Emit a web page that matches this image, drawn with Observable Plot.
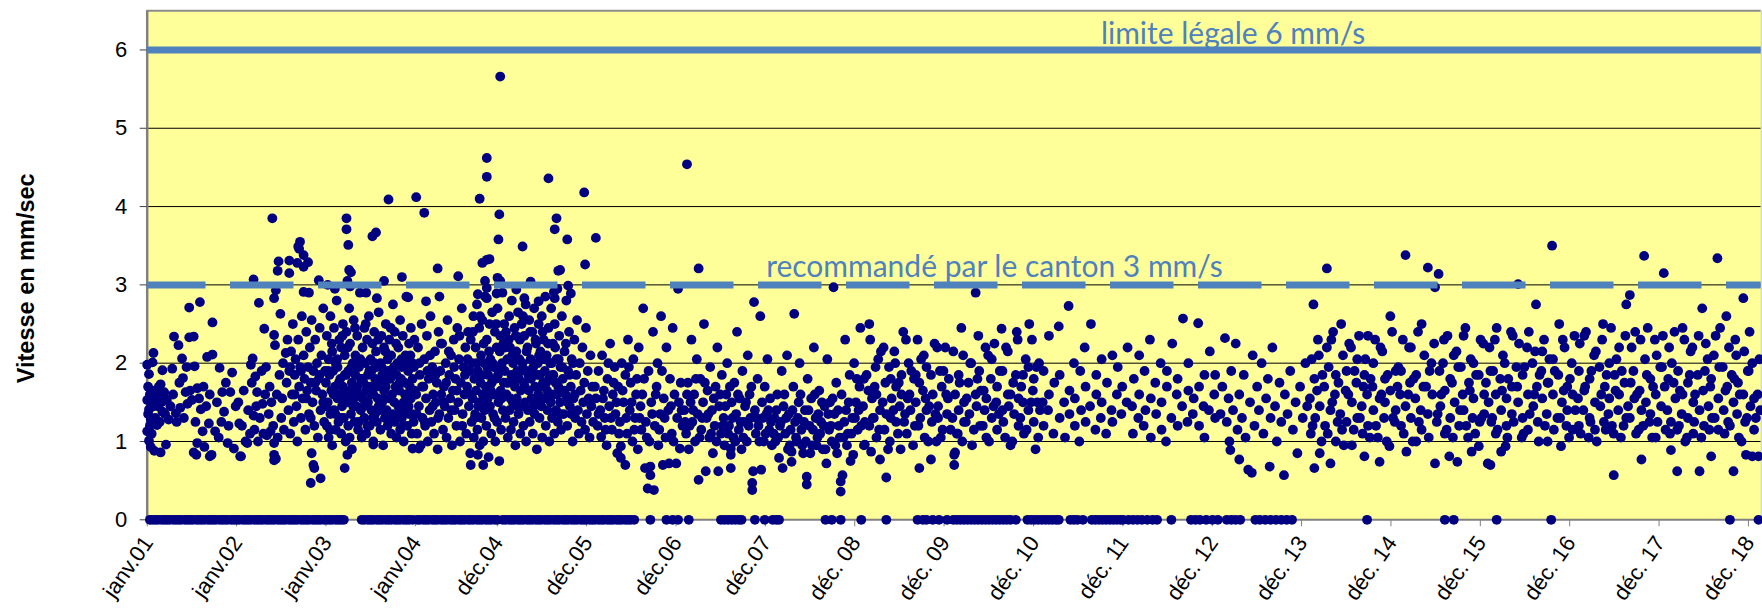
<!DOCTYPE html>
<html><head><meta charset="utf-8">
<script src="https://cdn.jsdelivr.net/npm/d3@7"></script>
<script src="https://cdn.jsdelivr.net/npm/@observablehq/plot@0.6"></script>
<style>html,body{margin:0;padding:0;background:#fff;} svg{display:block}</style>
</head><body><div id="chart"></div>
<script>
// ---- tick labels / positions (decimal years) ----
const tickLabels = ["janv.01","janv.02","janv.03","janv.04","déc.04","déc.05","déc.06","déc.07","déc. 08","déc. 09","déc. 10","déc. 11","déc. 12","déc. 13","déc. 14","déc. 15","déc. 16","déc. 17","déc. 18"];
const tickYears = [2001,2002,2003,2004,2004.917,2005.917,2006.917,2007.917,2008.917,2009.917,2010.917,2011.917,2012.917,2013.917,2014.917,2015.917,2016.917,2017.917,2018.917];
const yTicks = [0,1,2,3,4,5,6];
const legalLimit = 6;
const cantonLimit = 3;

// ---- measurements: [fraction of year, mm/s] ----
const y2001 = [[.00,1.98],[.06,2.01],[.07,2.13],[.02,1.86],[.00,1.53],[.02,1.41],[.04,1.28],[.00,1.13],[.02,1.01],[.04,.93],[.08,.88],[.15,.86],[.21,.96],[.11,1.63],[.15,1.73],[.19,1.63],[.22,1.53],[.17,1.38],[.11,1.21],[.17,1.91],[.28,1.93],[.30,2.34],[.35,2.23],[.39,2.06],[.40,1.81],[.43,1.63],[.37,1.43],[.32,1.36],[.45,1.48],[.47,2.33],[.52,2.34],[.47,2.71],[.59,2.78],[.53,1.96],[.56,1.68],[.50,1.53],[.60,1.41],[.52,.86],[.56,.98],[.62,1.13],[.64,.93],[.69,1.23],[.72,.83],[.73,2.52],[.67,2.08],[.73,2.11],[.76,1.13],[.81,1.94],[.84,1.63],[.86,1.38],[.90,.98],[.95,1.88],[.97,.91],[.93,1.63],
[.01,1.7],[.03,1.6],[.05,1.5],[.01,1.35],[.03,1.2],[.05,1.1],[.07,1.45],[.08,1.65],[.09,1.3],[.10,1.55],[.12,1.45],[.13,1.7],[.14,1.25],[.16,1.5],[.18,1.6],[.20,1.35],[.24,1.28],[.26,1.45],[.29,1.6],[.33,1.25],[.36,1.75],[.41,1.3],[.44,1.95],[.48,1.65],[.54,1.25],[.58,1.55],[.63,1.7],[.66,1.45],[.70,1.6],[.78,1.5],[.80,1.05],[.83,1.25],[.88,1.75],[.91,1.2],[.99,1.45],[.55,.83],[.70,.81]];
const y2002 = [[.04,.81],[.03,1.23],[.12,.98],[.16,1.98],[.18,2.06],[.19,3.07],[.25,2.77],[.21,1.83],[.23,1.63],[.19,1.33],[.29,1.48],[.31,2.44],[.34,1.08],[.38,1.13],[.40,3.85],[.42,2.83],[.44,2.93],[.46,3.18],[.49,2.63],[.42,2.36],[.43,2.23],[.44,.78],[.42,.98],[.47,3.30],[.55,2.13],
[.59,3.31],[.59,3.15],[.69,3.49],[.71,3.55],[.70,3.46],[.68,3.28],[.75,3.38],[.75,3.23],[.80,3.29],[.92,3.06],[.75,2.91],[.81,2.9],
[.42,.76],[.42,.83],[.05,.81],[.83,.47],[.94,.53],[.86,.70],[.87,.66],[.84,.85],
[.02,1.5],[.06,1.2],[.08,1.65],[.10,1.0],[.13,1.4],[.15,1.1],[.17,1.75],[.20,1.15],[.22,1.45],[.24,1.0],[.26,1.3],[.28,1.9],[.30,1.1],[.32,1.6],[.33,1.95],[.36,1.35],[.37,1.7],[.39,1.5],[.41,1.2],[.45,1.6],[.46,1.05],[.48,1.85],[.50,1.3],[.51,1.55],[.52,2.0],[.53,1.15],
[.56,1.75],[.57,2.3],[.58,1.4],[.59,1.9],[.60,1.1],[.61,2.15],[.62,1.6],[.63,2.5],[.64,1.25],[.65,1.85],[.66,2.05],[.67,1.45],[.68,1.0],[.69,2.3],[.70,1.7],[.71,1.95],[.72,1.3],[.73,2.6],[.74,1.55],[.75,2.1],[.76,1.8],[.77,1.15],[.78,2.4],[.79,1.65],[.80,1.95],[.81,1.35],[.82,2.2],[.83,1.75],[.84,2.55],[.85,1.5],[.86,1.9],[.87,1.2],[.88,2.3],[.89,1.65],[.90,2.0],[.91,1.05],[.92,1.8],[.93,2.45],[.94,1.4],[.95,2.1],[.96,1.6],[.97,2.7],[.98,1.25],[.99,1.9],[.60,1.95],[.65,1.6],[.72,1.9],[.78,1.55],[.83,1.3],[.88,1.75],[.93,1.85],[.97,1.5]];
const y2003 = [[.00,1.75],[.01,1.20],[.01,2.35],[.02,1.50],[.03,2.05],[.03,1.05],[.04,1.85],[.05,2.60],[.05,1.35],[.06,1.65],
[.07,2.15],[.07,.95],[.08,1.90],[.09,2.45],[.09,1.40],[.10,1.70],[.11,2.00],[.11,1.15],[.12,2.80],[.13,1.55],
[.13,1.95],[.14,1.25],[.15,2.30],[.15,1.60],[.16,1.80],[.17,2.20],[.17,1.10],[.18,1.45],[.19,2.50],[.19,1.70],
[.20,1.30],[.21,2.10],[.21,1.85],[.22,1.00],[.23,1.60],[.23,2.40],[.24,1.50],[.25,1.90],[.25,1.20],[.26,2.70],
[.27,1.65],[.27,2.25],[.28,1.35],[.29,1.75],[.29,.90],[.30,2.00],[.31,1.55],[.31,2.55],[.32,1.25],[.33,1.85],
[.33,2.10],[.34,1.45],[.35,1.70],[.35,2.35],[.36,1.15],[.37,1.95],[.37,1.60],[.38,2.90],[.39,1.40],[.39,1.80],
[.40,1.05],[.41,2.20],[.41,1.55],[.42,1.75],[.43,2.45],[.43,1.30],[.44,2.00],[.45,1.65],[.45,1.10],[.46,2.30],
[.47,1.85],[.47,1.50],[.48,2.60],[.49,1.20],[.49,1.70],[.50,2.05],[.51,1.40],[.51,1.90],[.52,2.25],[.53,1.00],
[.53,1.60],[.54,2.40],[.55,1.35],[.55,1.80],[.56,2.15],[.57,1.25],[.57,1.95],[.58,1.55],[.59,2.65],[.59,1.45],
[.60,1.75],[.61,1.15],[.61,2.00],[.62,2.35],[.63,1.50],[.63,1.85],[.64,.95],[.65,2.20],[.65,1.65],[.66,1.30],
[.67,2.50],[.67,1.70],[.68,1.40],[.69,2.05],[.69,1.20],[.70,1.90],[.71,2.30],[.71,1.55],[.72,1.80],[.73,1.10],
[.73,2.10],[.74,1.60],[.75,2.75],[.75,1.35],[.76,1.95],[.77,1.25],[.77,2.40],[.78,1.70],[.79,1.05],[.79,1.85],
[.80,2.00],[.81,1.45],[.81,2.20],[.82,1.65],[.83,1.15],[.83,2.55],[.84,1.80],[.85,1.30],[.85,1.95],[.86,2.35],
[.87,1.50],[.87,1.00],[.88,1.75],[.89,2.10],[.89,1.40],[.90,2.85],[.91,1.60],[.91,1.20],[.92,1.90],[.93,2.25],
[.93,1.35],[.94,1.70],[.95,2.45],[.95,1.55],[.96,1.10],[.97,2.00],[.97,1.80],[.98,1.25],[.99,2.30],[.99,1.65],
[.23,3.85],[.23,3.71],[.25,3.51],[.26,3.19],[.28,3.16],[.24,3.05],[.27,2.98],[.52,3.62],[.56,3.67],[.70,4.09],[.57,2.83],[.92,2.84],[.21,.66],[.24,.83],[.53,.96],[.97,.91],[.02,3.0],[.10,2.95],[.45,2.9],[.65,3.05],[.85,3.1]];
const y2003b = [[.005,1.45],[.025,1.9],[.045,1.15],[.065,2.25],[.085,1.6],[.105,1.35],[.125,2.05],[.145,1.75],[.165,1.3],[.185,2.35],[.205,1.55],[.225,1.85],[.245,2.2],[.265,1.05],[.285,1.95],[.305,1.45],[.325,2.45],[.345,1.65],[.365,1.25],[.385,2.05],[.405,1.8],[.425,1.45],[.445,2.5],[.465,1.2],[.485,1.9],[.505,1.6],[.525,1.3],[.545,2.0],[.565,1.7],[.585,2.3],[.605,1.4],[.625,1.95],[.645,1.55],[.665,2.15],[.685,1.8],[.705,1.25],[.725,2.45],[.745,1.85],[.765,1.5],[.785,2.25],[.805,1.35],[.825,1.75],[.845,2.05],[.865,1.2],[.885,1.6],[.905,2.0],[.925,1.45],[.945,2.1],[.965,1.35],[.985,1.95]];
const y2004 = [[.01,1.6],[.02,1.1],[.03,2.2],[.04,1.45],[.05,1.85],[.06,.95],[.07,2.5],[.08,1.3],[.09,1.7],[.10,2.05],[.11,1.2],[.12,1.55],[.13,2.35],[.14,1.0],[.15,1.8],[.16,1.4],[.17,2.6],[.18,1.25],[.19,1.95],[.20,1.6],[.21,1.1],[.22,2.15],[.23,1.5],[.24,1.75],[.25,.9],[.26,2.4],[.27,1.35],[.28,1.9],[.29,1.6],[.30,2.25],[.31,1.15],[.32,1.7],[.33,1.45],[.34,2.0],[.35,1.05],[.36,2.55],[.37,1.3],[.38,1.85],[.39,1.55],[.40,2.1],[.41,.95],[.42,1.65],[.43,2.3],[.44,1.4],[.45,1.8],[.46,1.2],[.47,2.45],[.48,1.5],[.49,2.05],[.50,1.0],[.51,1.75],[.52,2.7],[.53,1.35],[.54,1.95],[.55,1.6],[.56,2.2],[.57,1.1],[.58,1.7],[.59,2.4],[.60,1.45],
[.61,1.9],[.615,.85],[.62,2.3],[.63,1.25],[.635,2.0],[.64,1.55],[.65,2.6],[.655,1.05],[.66,1.8],[.67,1.35],[.675,2.2],[.68,1.65],[.69,2.75],[.695,1.15],[.70,1.9],[.71,1.5],[.715,2.45],[.72,.95],[.73,1.75],[.735,2.1],[.74,1.3],[.75,2.55],[.755,1.6],[.76,1.0],[.77,2.0],[.775,1.4],[.78,2.85],[.79,1.7],[.795,1.2],[.80,2.3],[.81,1.55],[.815,1.85],[.82,.8],[.83,2.5],[.835,1.45],[.84,2.05],[.85,1.1],[.855,1.75],[.86,2.65],[.87,1.35],[.875,1.95],[.88,1.6],[.89,2.4],[.895,1.0],[.90,1.8],[.91,2.2],[.915,1.25],[.92,2.7],[.93,1.5],[.935,1.9],[.94,.75],[.95,2.35],[.955,1.65],[.96,1.15],[.97,2.0],[.975,2.9],[.98,1.4],[.99,1.75],[.995,2.5],
[.01,4.12],[.10,3.92],[.25,3.21],[.48,3.11],[.72,4.10],[.78,3.05],[.80,2.96],[.75,3.28],[.80,3.32],[.83,3.33],[.80,4.62],[.80,4.38],[.70,2.88],[.80,2.83],[.95,5.66],[.94,3.90],[.93,3.58],[.92,3.09],[.95,3.05],[.91,2.89],[.27,2.85],[.12,2.79],[.04,.91],[.62,.70],[.76,.70],[.70,.83]];
const y2004b = [[.015,1.35],[.045,2.0],[.075,1.7],[.105,1.25],[.135,1.9],[.165,2.1],[.195,1.45],[.225,1.85],[.255,1.3],[.285,2.25],[.315,1.5],[.345,1.75],[.375,2.15],[.405,1.4],[.435,1.95],[.465,1.65],[.495,2.35],[.525,1.2],[.555,1.85],[.585,2.05],[.615,1.6],[.645,2.4],[.665,1.3],[.685,2.0],[.705,1.45],[.725,2.6],[.745,1.85],[.765,2.25],[.785,1.5],[.805,1.95],[.825,2.15],[.845,1.65],[.865,2.0],[.885,1.3],[.905,2.5],[.925,1.85],[.945,2.15],[.965,1.55],[.985,2.25]];
const y2005 = [[.00,1.9],[.01,1.3],[.015,2.4],[.02,1.6],[.03,2.05],[.035,1.05],[.04,1.75],[.05,2.6],[.055,1.4],[.06,2.2],[.07,1.15],[.075,1.85],[.08,2.8],[.09,1.5],[.095,2.0],[.10,1.25],[.11,2.45],[.115,1.7],[.12,.95],[.13,2.15],[.135,1.55],[.14,1.9],[.15,2.65],[.155,1.35],[.16,1.8],[.17,2.3],[.175,1.1],[.18,1.65],[.19,2.5],[.195,1.45],[.20,2.0],[.21,1.2],[.215,1.75],[.22,2.35],[.23,1.5],[.235,2.75],[.24,1.0],[.25,1.9],[.255,2.2],[.26,1.4],[.27,1.65],[.275,2.55],[.28,1.25],[.29,2.05],[.295,1.8],[.30,1.55],[.31,2.4],[.315,1.1],[.32,1.95],[.33,2.7],[.335,1.35],[.34,1.7],[.35,2.25],[.355,1.5],[.36,.9],[.37,2.0],[.375,1.6],[.38,2.5],[.39,1.3],[.395,1.85],[.40,2.15],[.41,1.45],[.415,2.6],[.42,1.05],[.43,1.75],[.435,2.3],[.44,1.55],[.45,1.9],[.455,2.85],[.46,1.2],[.47,2.1],[.475,1.65],[.48,1.4],[.49,2.45],[.495,1.8],[.50,1.0],[.51,2.0],[.515,1.5],[.52,2.7],[.53,1.3],[.535,1.85],[.54,2.25],[.55,1.6],[.555,1.1],[.56,2.5],[.57,1.75],[.575,1.4],[.58,2.05],[.59,2.95],[.595,1.25],[.60,1.7],[.61,2.35],[.62,1.5],[.625,1.95],[.63,1.15],[.64,2.6],[.65,1.8],[.66,1.35],[.67,2.15],[.68,1.6],[.69,2.8],[.70,1.2],[.71,1.9],[.72,2.4],[.73,1.45],[.74,1.7],[.75,2.05],[.76,1.0],[.77,1.55],[.78,2.3],[.79,1.3],[.80,1.85],[.81,2.55],[.82,1.4],[.83,1.1],[.84,2.0],[.85,1.65],[.86,1.25],[.87,2.2],[.88,1.5],[.89,1.75],[.90,1.15],[.91,2.45],[.92,1.35],[.93,1.9],[.94,1.55],[.95,1.05],[.96,2.1],[.97,1.45],[.98,1.7],[.99,1.25],
[.13,2.94],[.20,3.49],[.22,2.83],[.29,3.04],[.38,2.79],[.49,4.36],[.56,3.71],[.58,3.85],[.60,3.18],[.62,3.19],[.55,2.91],[.56,2.83],[.70,3.58],[.71,2.99],[.74,2.89],[.89,4.18],[.90,3.26]];
const y2005b = [[.005,2.2],[.025,1.75],[.045,2.3],[.065,1.55],[.085,2.1],[.105,1.8],[.125,2.35],[.145,1.45],[.165,2.05],[.185,1.9],[.205,2.6],[.225,1.7],[.245,2.15],[.265,1.85],[.285,2.4],[.305,1.9],[.325,1.45],[.345,2.3],[.365,1.85],[.385,2.1],[.405,1.7],[.425,2.4],[.445,2.05],[.465,1.75],[.485,2.25],[.505,1.55],[.525,2.0],[.545,1.85],[.565,2.2],[.585,1.6],[.605,2.05],[.625,1.35],[.645,1.95],[.665,1.65],[.685,2.25],[.705,1.5],[.725,1.85],[.745,1.35],[.765,2.0],[.785,1.6]];
const y2006 = [[.02,1.55],[.02,3.60],[.04,1.2],[.05,1.9],[.07,1.4],[.08,1.06],[.09,2.1],[.11,1.65],[.12,1.3],[.14,.95],[.15,1.8],[.17,1.45],[.18,2.25],[.20,1.15],[.21,1.6],[.23,1.95],[.24,1.35],[.26,.85],[.27,1.7],[.29,1.25],[.30,.94],[.30,.79],[.31,2.0],[.33,1.5],[.35,.70],[.35,1.85],[.37,1.1],[.38,2.3],[.40,1.4],[.41,1.75],[.43,1.0],[.44,2.05],[.46,1.3],[.47,1.6],[.49,.9],[.50,2.2],[.52,1.45],[.53,1.15],[.55,2.7],[.56,1.8],[.57,.66],[.58,1.25],[.60,.40],[.61,1.9],[.62,1.0],[.63,.57],[.63,.68],[.64,1.5],[.66,2.4],[.67,.38],[.68,1.2],[.70,1.7],[.71,2.0],[.72,.95],[.74,1.35],[.75,2.6],[.77,.70],[.78,1.55],[.80,1.05],[.81,2.2],[.83,1.4],[.84,.72],[.85,1.8],[.87,1.1],[.88,2.45],[.90,1.6],[.92,.72],[.93,1.3],[.94,2.95],[.96,.91],[.97,1.75],[.99,1.2]];
const y2006b = [[.01,1.7],[.05,1.35],[.10,1.55],[.13,1.15],[.16,2.0],[.19,1.3],[.22,1.75],[.25,1.5],[.28,1.1],[.32,1.65],[.36,1.3],[.39,1.95],[.42,1.5],[.45,1.15],[.48,1.8],[.51,1.3],[.54,1.6],[.59,1.05],[.65,1.35],[.69,1.6],[.73,1.15],[.76,1.9],[.79,1.3],[.86,1.45],[.89,1.0],[.95,1.5],[.98,1.4]];
const y2007 = [[.01,1.4],[.03,1.1],[.04,4.54],[.05,1.75],[.06,.9],[.08,1.5],[.09,2.3],[.10,1.25],[.12,1.6],[.13,1.0],[.15,2.05],[.16,1.35],[.17,3.21],[.17,.51],[.19,1.8],[.20,1.15],[.22,1.5],[.23,2.5],[.25,.62],[.26,1.3],[.27,1.65],[.29,1.05],[.30,1.95],[.32,1.4],[.33,.85],[.35,1.2],[.36,1.7],[.38,2.2],[.39,.62],[.40,1.45],[.42,1.1],[.43,1.85],[.45,1.3],[.46,.95],[.48,1.6],[.49,2.0],[.51,1.2],[.53,.83],[.53,.66],[.53,.91],[.54,1.5],[.56,1.05],[.57,1.75],[.59,1.35],[.60,2.4],[.62,1.15],[.63,1.55],[.65,.9],[.66,1.9],[.68,1.25],[.69,1.45],[.71,1.0],[.72,2.1],[.74,1.6],[.75,1.3],[.77,.47],[.77,.38],[.78,.62],[.79,2.78],[.80,1.4],[.81,1.1],[.83,1.8],[.84,1.2],[.86,2.6],[.87,.64],[.88,1.5],[.90,1.0],[.91,1.7],[.93,1.35],[.94,2.05],[.96,1.15],[.97,1.55],[.99,.95]];
const y2007b = [[.02,1.25],[.04,1.6],[.07,1.2],[.11,1.4],[.14,1.8],[.18,1.05],[.21,1.3],[.24,1.75],[.28,1.35],[.31,1.1],[.34,1.55],[.37,1.0],[.41,1.6],[.44,1.2],[.47,1.45],[.50,1.1],[.52,1.7],[.55,1.3],[.58,1.0],[.61,1.6],[.64,1.25],[.67,1.05],[.70,1.5],[.73,1.2],[.76,1.7],[.82,1.3],[.85,1.0],[.89,1.3],[.92,1.1],[.95,1.4],[.98,1.25]];
const y2008 = [[.02,1.3],[.03,1.0],[.05,1.6],[.07,.79],[.08,1.2],[.10,1.9],[.11,.66],[.12,1.45],[.14,1.1],[.16,2.1],[.18,1.35],[.19,.95],[.21,.74],[.21,.87],[.23,1.7],[.24,2.63],[.25,1.25],[.27,1.0],[.29,1.5],[.30,2.0],[.32,1.15],[.34,.85],[.36,1.4],[.38,.45],[.38,.55],[.39,1.8],[.41,1.2],[.43,1.55],[.44,.95],[.46,2.2],[.48,1.3],[.50,1.05],[.52,1.65],[.54,1.25],[.56,.9],[.58,1.45],[.60,.72],[.61,2.05],[.63,1.15],[.64,1.5],[.66,1.0],[.68,2.97],[.69,1.35],[.71,1.75],[.72,.85],[.74,1.2],[.76,.49],[.76,.36],[.77,1.6],[.78,.57],[.79,1.05],[.81,2.3],[.82,1.4],[.84,1.1],[.86,1.85],[.87,.75],[.89,1.3],[.90,.83],[.91,2.0],[.93,1.5],[.95,1.15],[.97,1.7],[.98,2.45]];
const y2008b = [[.01,1.1],[.04,1.4],[.06,1.05],[.09,1.25],[.13,1.6],[.15,1.3],[.17,.9],[.20,1.15],[.22,1.4],[.26,1.05],[.28,1.3],[.31,1.6],[.33,.95],[.35,1.25],[.37,1.0],[.40,1.4],[.42,.85],[.45,1.15],[.47,1.6],[.49,.95],[.51,1.35],[.53,1.1],[.55,1.5],[.57,1.2],[.59,.9],[.62,1.35],[.65,1.2],[.67,1.55],[.70,.95],[.73,1.4],[.75,1.05],[.80,1.25],[.83,.95],[.85,1.5],[.88,1.1],[.92,1.3],[.94,1.8],[.96,1.4],[.99,1.2]];
const y2009 = [[.01,1.45],[.02,1.8],[.03,.96],[.03,1.25],[.07,1.65],[.08,2.5],[.08,1.2],[.10,.87],[.11,1.55],[.12,1.3],[.15,1.95],[.16,1.05],[.16,1.6],[.20,.77],[.20,1.4],[.21,2.15],[.25,1.15],[.26,1.75],[.27,.54],[.27,1.35],[.31,1.0],[.32,1.8],[.32,1.3],[.33,1.55],[.37,2.0],[.38,1.25],[.38,1.7],[.42,1.45],[.43,.9],[.44,1.85],[.44,1.6],[.48,1.35],[.49,2.3],[.50,1.1],[.53,1.6],[.54,1.4],[.55,1.9],[.59,1.2],[.60,1.85],[.60,1.5],[.64,.66],[.64,1.75],[.65,1.3],[.66,2.05],[.70,1.05],[.71,1.55],[.72,1.95],[.72,1.4],[.77,.77],[.77,1.85],[.78,1.25],[.79,1.6],[.83,1.0],[.84,2.2],[.85,1.45],[.85,1.3],[.89,1.7],[.90,1.15],[.91,1.9],[.95,1.35],[.96,1.55],[.97,1.8]];
const y2009b = [[.02,.95],[.05,1.85],[.09,2.3],[.13,1.3],[.14,1.7],[.18,2.05],[.19,1.15],[.23,1.5],[.24,2.2],[.29,.9],[.30,1.95],[.35,1.4],[.36,2.15],[.40,1.1],[.41,1.75],[.46,2.4],[.47,1.25],[.51,1.55],[.52,2.0],[.57,.95],[.58,1.8],[.62,2.3],[.63,1.2],[.68,1.65],[.69,2.1],[.74,1.0],[.75,1.45],[.81,2.25],[.82,1.35],[.87,1.9],[.88,1.05],[.93,2.2],[.94,1.6],[.99,1.15]];
const y2010 = [[.01,1.3],[.03,.83],[.03,.70],[.04,.86],[.04,1.6],[.07,1.1],[.08,1.85],[.08,1.4],[.12,1.0],[.13,2.1],[.14,1.5],[.14,1.25],[.19,1.75],[.20,1.35],[.21,2.0],[.25,1.15],[.27,2.9],[.27,1.6],[.28,1.45],[.31,1.9],[.32,1.2],[.33,1.65],[.37,1.4],[.38,2.2],[.39,1.05],[.39,1.55],[.44,1.8],[.45,1.3],[.45,2.05],[.50,1.5],[.51,1.15],[.51,1.7],[.56,2.44],[.57,1.4],[.57,1.9],[.58,1.25],[.63,1.6],[.63,2.15],[.64,1.45],[.68,1.0],[.69,1.75],[.70,1.35],[.74,2.3],[.75,1.55],[.75,1.2],[.80,1.85],[.80,1.5],[.81,1.1],[.86,1.95],[.86,1.4],[.87,2.5],[.91,1.65],[.92,1.25],[.92,1.8],[.96,1.5],[.97,1.05],[.98,2.0]];
const y2010b = [[.02,2.15],[.06,1.1],[.09,1.75],[.11,2.45],[.16,1.25],[.17,1.55],[.22,2.0],[.23,.95],[.29,1.8],[.30,2.35],[.35,1.2],[.36,1.65],[.41,2.1],[.42,1.0],[.47,1.45],[.48,2.25],[.53,1.35],[.54,1.9],[.60,1.05],[.61,2.2],[.66,1.6],[.66,.95],[.72,1.85],[.73,2.4],[.77,1.3],[.78,1.7],[.83,2.05],[.84,1.15],[.89,1.5],[.90,2.3],[.94,.9],[.95,1.95],[.99,1.4]];
const y2011 = [[.02,1.5],[.03,1.2],[.03,1.9],[.08,1.4],[.09,2.35],[.09,1.6],[.14,1.1],[.15,1.75],[.20,2.47],[.21,1.3],[.21,1.85],[.26,1.5],[.27,1.05],[.31,2.73],[.32,1.65],[.32,1.35],[.37,2.0],[.38,1.2],[.38,1.55],[.43,1.0],[.44,1.9],[.45,1.4],[.49,2.2],[.50,1.25],[.50,1.7],[.55,1.45],[.56,2.5],[.61,1.15],[.62,1.6],[.62,1.85],[.67,1.3],[.68,2.05],[.68,1.5],[.73,1.1],[.74,1.75],[.79,1.4],[.80,2.1],[.80,1.25],[.85,1.6],[.86,1.95],[.90,1.35],[.91,1.7],[.96,1.5],[.97,2.2]];
const y2012 = [[.02,1.45],[.03,1.1],[.04,1.8],[.09,1.3],[.10,2.1],[.10,1.6],[.15,1.2],[.16,1.9],[.17,1.4],[.22,2.3],[.23,1.55],[.23,1.05],[.28,1.75],[.29,1.35],[.34,2.0],[.35,1.5],[.35,1.15],[.40,1.0],[.41,1.7],[.41,1.9],[.46,1.3],[.47,2.25],[.52,1.6],[.53,1.2],[.53,1.8],[.58,1.45],[.59,2.57],[.64,1.25],[.65,1.65],[.65,2.0],[.70,1.35],[.71,1.55],[.76,2.51],[.77,1.2],[.77,1.7],[.82,1.45],[.83,1.05],[.83,1.85],[.88,1.4],[.89,2.15],[.94,1.6],[.95,1.3],[.95,1.85]];
const y2013 = [[.01,1.35],[.03,1.7],[.06,2.32],[.08,1.25],[.10,1.55],[.11,1.0],[.12,.89],[.13,1.9],[.15,1.4],[.18,2.25],[.20,1.15],[.22,.77],[.22,1.6],[.25,1.3],[.27,1.85],[.29,1.05],[.32,.64],[.34,1.5],[.36,.60],[.37,2.1],[.39,1.2],[.42,1.7],[.44,1.4],[.47,2.0],[.49,1.1],[.52,1.55],[.54,1.8],[.56,.68],[.57,1.3],[.59,2.2],[.62,1.45],[.64,1.0],[.67,1.75],[.69,1.25],[.72,.57],[.73,1.6],[.76,1.35],[.79,1.9],[.82,1.15],[.85,1.5],[.87,.85],[.90,1.7],[.93,1.3],[.96,2.0],[.98,1.45]];
const y2014 = [[.01,1.55],[.02,1.1],[.05,2.75],[.06,.66],[.06,1.8],[.07,1.3],[.11,2.1],[.12,1.45],[.12,.85],[.17,1.7],[.18,1.2],[.20,3.21],[.22,1.95],[.24,.72],[.24,1.4],[.25,2.3],[.29,1.6],[.30,1.0],[.30,1.85],[.35,1.35],[.36,2.5],[.37,1.15],[.41,1.65],[.42,1.9],[.42,1.25],[.47,2.2],[.48,1.5],[.48,.95],[.53,1.75],[.54,1.3],[.54,2.05],[.59,1.45],[.60,1.1],[.62,.81],[.62,1.85],[.65,1.6],[.66,2.35],[.66,1.2],[.71,1.7],[.72,1.4],[.72,2.0],[.77,1.05],[.79,.74],[.79,1.55],[.80,2.2],[.84,1.3],[.85,1.8],[.85,1.5],[.90,.94],[.91,2.6],[.91,1.65],[.96,1.25],[.97,1.9],[.97,1.4]];
const y2014b = [[.03,2.05],[.04,1.2],[.09,1.65],[.10,2.3],[.14,1.0],[.15,1.85],[.20,2.2],[.21,1.1],[.26,1.5],[.27,2.4],[.32,1.25],[.33,1.75],[.38,2.1],[.39,.95],[.44,1.6],[.45,2.25],[.50,1.15],[.51,1.9],[.56,2.35],[.57,1.3],[.61,1.7],[.63,2.05],[.68,1.05],[.69,1.8],[.74,2.3],[.75,1.2],[.81,1.6],[.82,2.15],[.87,1.0],[.88,1.85],[.93,2.4],[.94,1.3],[.99,1.7]];
const y2015 = [[.02,1.6],[.03,1.2],[.03,1.9],[.08,3.38],[.08,1.45],[.09,.87],[.13,1.75],[.14,1.3],[.14,2.2],[.19,1.55],[.20,1.0],[.20,1.85],[.25,1.4],[.26,2.5],[.26,1.15],[.31,1.7],[.33,3.22],[.33,1.35],[.37,2.0],[.38,1.6],[.41,.72],[.41,2.97],[.43,1.25],[.45,3.14],[.46,1.9],[.47,1.45],[.51,2.3],[.52,1.1],[.52,1.65],[.57,.81],[.58,1.8],[.58,1.3],[.62,2.1],[.63,1.5],[.66,.74],[.67,1.95],[.68,1.2],[.72,1.6],[.73,2.35],[.73,1.4],[.78,1.05],[.79,1.75],[.82,.87],[.83,1.3],[.84,2.0],[.84,1.55],[.90,.94],[.90,1.85],[.91,1.25],[.95,2.25],[.96,1.6],[.96,1.35]];
const y2015b = [[.00,1.95],[.05,2.3],[.06,1.1],[.11,1.6],[.12,2.2],[.16,1.0],[.17,1.8],[.22,2.4],[.23,1.25],[.28,1.7],[.29,2.1],[.34,1.05],[.35,1.9],[.40,2.25],[.44,1.35],[.48,1.6],[.50,2.0],[.54,1.15],[.55,2.35],[.60,1.75],[.61,1.05],[.65,2.15],[.69,1.4],[.70,1.95],[.75,2.45],[.76,1.2],[.80,1.65],[.81,2.05],[.86,1.1],[.87,1.85],[.92,2.3],[.93,1.3],[.98,1.75]];
const y2016 = [[.00,.72],[.01,1.5],[.03,.70],[.03,1.9],[.04,1.25],[.08,2.3],[.09,1.6],[.09,1.1],[.14,1.8],[.15,.87],[.15,1.4],[.19,2.0],[.20,.94],[.21,1.55],[.21,1.2],[.26,2.4],[.27,1.7],[.27,1.35],[.32,1.95],[.34,3.01],[.34,1.5],[.38,1.05],[.39,1.85],[.39,1.3],[.44,2.2],[.45,1.6],[.45,1.15],[.50,2.0],[.51,1.45],[.54,2.75],[.55,1.7],[.56,1.25],[.60,1.9],[.61,1.55],[.61,2.15],[.66,1.35],[.67,1.75],[.67,1.0],[.72,3.5],[.73,1.6],[.73,2.05],[.78,1.3],[.79,1.85],[.82,.94],[.83,1.5],[.84,2.3],[.88,1.2],[.89,1.7],[.89,1.4],[.94,2.0],[.95,1.15],[.95,1.6]];
const y2016b = [[.02,2.2],[.05,1.3],[.06,1.9],[.10,2.45],[.11,1.15],[.16,1.65],[.17,2.1],[.22,1.05],[.23,1.8],[.28,2.35],[.29,1.25],[.33,1.7],[.35,2.25],[.40,1.1],[.41,1.95],[.46,2.4],[.47,1.35],[.52,1.6],[.53,2.15],[.57,1.0],[.58,1.85],[.63,2.3],[.64,1.2],[.68,1.75],[.69,2.05],[.74,1.15],[.75,1.9],[.80,2.5],[.81,1.3],[.85,1.65],[.86,2.2],[.91,1.05],[.92,1.8],[.97,2.35],[.98,1.4]];
const y2017 = [[.01,1.55],[.02,1.2],[.02,1.9],[.07,1.4],[.08,2.35],[.08,1.65],[.13,1.05],[.14,1.8],[.14,1.3],[.19,2.1],[.20,1.5],[.20,1.15],[.25,1.95],[.26,1.45],[.29,2.5],[.30,1.25],[.31,1.7],[.35,1.35],[.36,2.0],[.36,1.55],[.41,.57],[.41,1.1],[.42,1.85],[.46,1.4],[.47,2.2],[.47,1.6],[.52,1.2],[.53,1.75],[.55,2.75],[.57,1.45],[.59,2.87],[.59,1.3],[.63,1.9],[.64,1.55],[.65,2.4],[.69,1.15],[.70,1.65],[.72,.77],[.72,1.4],[.75,3.37],[.76,2.05],[.77,1.5],[.81,1.25],[.82,1.8],[.82,1.35],[.87,2.3],[.88,1.6],[.88,1.05],[.93,1.95],[.94,1.45],[.97,3.15],[.98,1.7]];
const y2017b = [[.03,2.25],[.04,1.1],[.09,1.7],[.10,2.4],[.15,1.25],[.16,1.9],[.21,2.15],[.22,1.0],[.27,1.6],[.28,2.3],[.32,1.15],[.33,1.85],[.38,2.45],[.39,1.2],[.43,1.65],[.44,2.05],[.49,1.05],[.50,1.9],[.54,2.35],[.55,1.3],[.60,1.75],[.61,2.2],[.66,1.1],[.67,1.6],[.71,2.3],[.74,1.2],[.78,1.85],[.79,2.45],[.84,1.05],[.85,1.7],[.89,2.1],[.90,1.25],[.95,1.95],[.96,2.35],[.99,1.15]];
const y2018 = [[.01,1.4],[.02,1.8],[.05,.89],[.05,1.25],[.06,2.0],[.10,1.55],[.12,.62],[.12,1.15],[.13,1.9],[.17,1.35],[.18,2.45],[.18,1.6],[.23,1.05],[.24,1.75],[.24,1.3],[.29,2.2],[.30,1.5],[.30,1.1],[.35,1.85],[.37,.62],[.37,1.4],[.40,2.7],[.41,1.65],[.42,1.2],[.46,2.05],[.47,1.45],[.50,.81],[.50,1.8],[.51,1.3],[.55,2.35],[.57,3.34],[.58,1.55],[.58,1.15],[.63,1.95],[.64,1.4],[.67,2.6],[.68,1.7],[.69,1.25],[.73,1.85],[.75,.62],[.75,1.5],[.78,2.1],[.79,1.35],[.80,1.75],[.84,1.0],[.86,2.83],[.86,1.6],[.89,.83],[.90,1.3],[.91,1.9],[.94,1.45],[.96,.81],[.96,2.0],[.98,1.55]];
const y2018b = [[.03,2.2],[.04,1.1],[.08,1.75],[.09,2.4],[.14,1.2],[.15,1.65],[.20,2.3],[.21,1.0],[.26,1.85],[.27,2.15],[.31,1.25],[.32,1.6],[.36,2.35],[.39,1.05],[.43,1.9],[.44,2.25],[.48,1.15],[.49,1.7],[.53,2.1],[.54,1.3],[.59,1.95],[.60,2.45],[.65,1.1],[.66,1.65],[.70,2.2],[.71,1.2],[.76,1.8],[.77,2.3],[.81,1.05],[.82,1.6],[.87,2.15],[.88,1.25],[.92,1.9],[.93,2.4],[.98,1.15]];
const y2019 = [[.00,1.3],[.02,1.6],[.03,.81],[.04,2.05],[.05,1.4]];

// readings at 0 mm/s (years after 2001-01)
const zeroReadings = [.03,.06,.09,.12,.16,.19,.22,.25,.29,.32,.35,.38,.42,.45,.48,.51,.55,.58,.61,.64,.68,.71,.74,.77,.81,.84,.87,.90,.94,.97,1.00,1.03,1.07,1.10,1.13,1.16,1.20,1.23,1.26,1.29,1.33,1.36,1.39,1.42,1.46,1.49,1.52,1.55,1.59,1.62,1.65,1.68,1.72,1.75,1.78,1.81,1.85,1.88,1.91,1.94,1.98,2.01,2.04,2.07,2.11,2.14,2.17,2.20,
2.40,2.43,2.47,2.50,2.53,2.57,2.60,2.63,2.67,2.70,2.73,2.77,2.80,2.83,2.87,2.90,2.93,2.97,
3.02,3.05,3.09,3.12,3.15,3.19,3.22,3.25,3.29,3.32,3.35,3.39,3.42,3.45,3.49,3.52,3.55,3.59,3.62,3.65,3.69,3.72,3.75,3.79,3.82,3.85,3.89,3.92,
3.98,4.01,4.05,4.08,4.11,4.15,4.18,4.21,4.25,4.28,4.31,4.35,4.38,4.41,4.45,4.48,4.51,4.55,4.58,4.61,4.65,4.68,4.71,4.75,4.78,4.81,4.85,4.88,4.91,4.95,4.98,5.01,5.05,5.08,5.11,5.15,5.18,5.21,5.25,5.28,5.31,5.35,5.38,5.41,5.45,
5.63,5.81,5.88,5.94,6.06,6.42,6.46,6.50,6.54,6.58,6.62,6.65,6.80,6.91,7.00,7.04,7.07,7.59,7.66,7.76,7.99,8.27,8.62,8.68,8.72,8.79,8.86,8.95,9.02,9.06,9.10,9.14,9.18,9.22,9.26,9.30,9.34,9.38,9.42,9.46,9.50,9.54,9.58,9.62,9.66,9.72,9.85,9.89,9.93,9.97,10.01,10.05,10.09,10.13,10.17,10.20,10.33,10.37,10.41,10.47,10.57,10.61,10.65,10.69,10.73,10.77,10.81,10.85,10.89,10.92,10.98,11.03,11.08,11.13,11.19,11.25,11.30,11.46,11.68,11.73,11.78,11.85,11.92,11.98,12.08,12.13,12.18,12.23,12.40,12.45,12.51,12.57,12.63,12.69,12.75,12.81,13.65,14.52,14.62,15.10,15.71,17.71,18.03];

const years = [[2001,y2001],[2002,y2002],[2003,y2003],[2003,y2003b],[2004,y2004],[2004,y2004b],[2005,y2005],[2005,y2005b],[2006,y2006],[2006,y2006b],[2007,y2007],[2007,y2007b],[2008,y2008],[2008,y2008b],[2009,y2009],[2009,y2009b],[2010,y2010],[2010,y2010b],[2011,y2011],[2012,y2012],[2013,y2013],[2014,y2014],[2014,y2014b],[2015,y2015],[2015,y2015b],[2016,y2016],[2016,y2016b],[2017,y2017],[2017,y2017b],[2018,y2018],[2018,y2018b],[2019,y2019]];
const points = years.flatMap(([yr, arr]) => arr.map(([f, v]) => ({x: yr + f, v})));
const zeros = zeroReadings.map(t => ({x: 2001 + t, v: 0}));
const allPoints = zeros.concat(points);

const blue = "#4F81BD";
const chart = Plot.plot({
  width: 1762, height: 613,
  marginLeft: 146.7, marginRight: 1.3, marginTop: 10.3, marginBottom: 93.7,
  style: {fontFamily: "'Liberation Sans', Arial, sans-serif", background: "#ffffff", overflow: "visible"},
  x: {domain: [2001, 2019.06], axis: null},
  y: {domain: [0, 6.5], axis: null},
  marks: [
    Plot.frame({fill: "#FFFF99", stroke: "none"}),
    Plot.ruleY(yTicks.filter(d => d > 0), {stroke: "#000", strokeWidth: 1}),
    Plot.ruleY([6.5], {stroke: "#8c8c8c", strokeWidth: 2}),
    Plot.ruleX([2019.06], {stroke: "#c8c8c8", strokeWidth: 1}),
    Plot.ruleX([2001], {stroke: "#808080", strokeWidth: 2.5}),
    Plot.ruleY([0], {stroke: "#808080", strokeWidth: 2}),
    Plot.axisY({ticks: yTicks, tickSize: 7, tickPadding: 13, fontSize: 22, tickFormat: d => String(d), label: null, stroke: "#404040"}),
    Plot.axisX({ticks: tickYears, tickSize: 7, tickFormat: () => "", label: null, stroke: "#808080"}),
    Plot.dot(allPoints, {x: "x", y: "v", r: 4.9, fill: "#000080"}),
    Plot.ruleY([legalLimit], {stroke: blue, strokeWidth: 7}),
    Plot.ruleY([cantonLimit], {stroke: blue, strokeWidth: 7, strokeDasharray: "63.5,24.5", strokeDashoffset: 4.7}),
    Plot.text([{x: 2013.15, y: 6.20, t: "limite légale 6 mm/s"}], {x: "x", y: "y", text: "t", fill: blue, fontFamily: "Lato, 'Open Sans', sans-serif", fontSize: 30, ariaLabel: "anno6"}),
    Plot.text([{x: 2010.48, y: 3.22, t: "recommandé par le canton 3 mm/s"}], {x: "x", y: "y", text: "t", fill: blue, fontFamily: "Lato, 'Open Sans', sans-serif", fontSize: 30, ariaLabel: "anno3"}),
    Plot.text(tickYears, {x: d => d, text: (d, i) => tickLabels[i], frameAnchor: "bottom", rotate: -55, textAnchor: "end", lineAnchor: "middle", dy: 19, dx: 1, fontSize: 22, fill: "#000"}),
    Plot.text(["Vitesse en mm/sec"], {frameAnchor: "left", rotate: -90, textAnchor: "middle", dx: -121, dy: 13, fontWeight: "bold", fontSize: 23.5, fill: "#000"})
  ]
});
document.getElementById("chart").append(chart);
// fit the annotation widths to the reference
for (const [label, target] of [["anno6", 264], ["anno3", 457]]) {
  const t = chart.querySelector(`g[aria-label="${label}"] text`);
  if (t) {
    const w = t.getComputedTextLength();
    if (w > 0) t.setAttribute("font-size", (30 * target / w).toFixed(2));
  }
}
</script></body></html>
